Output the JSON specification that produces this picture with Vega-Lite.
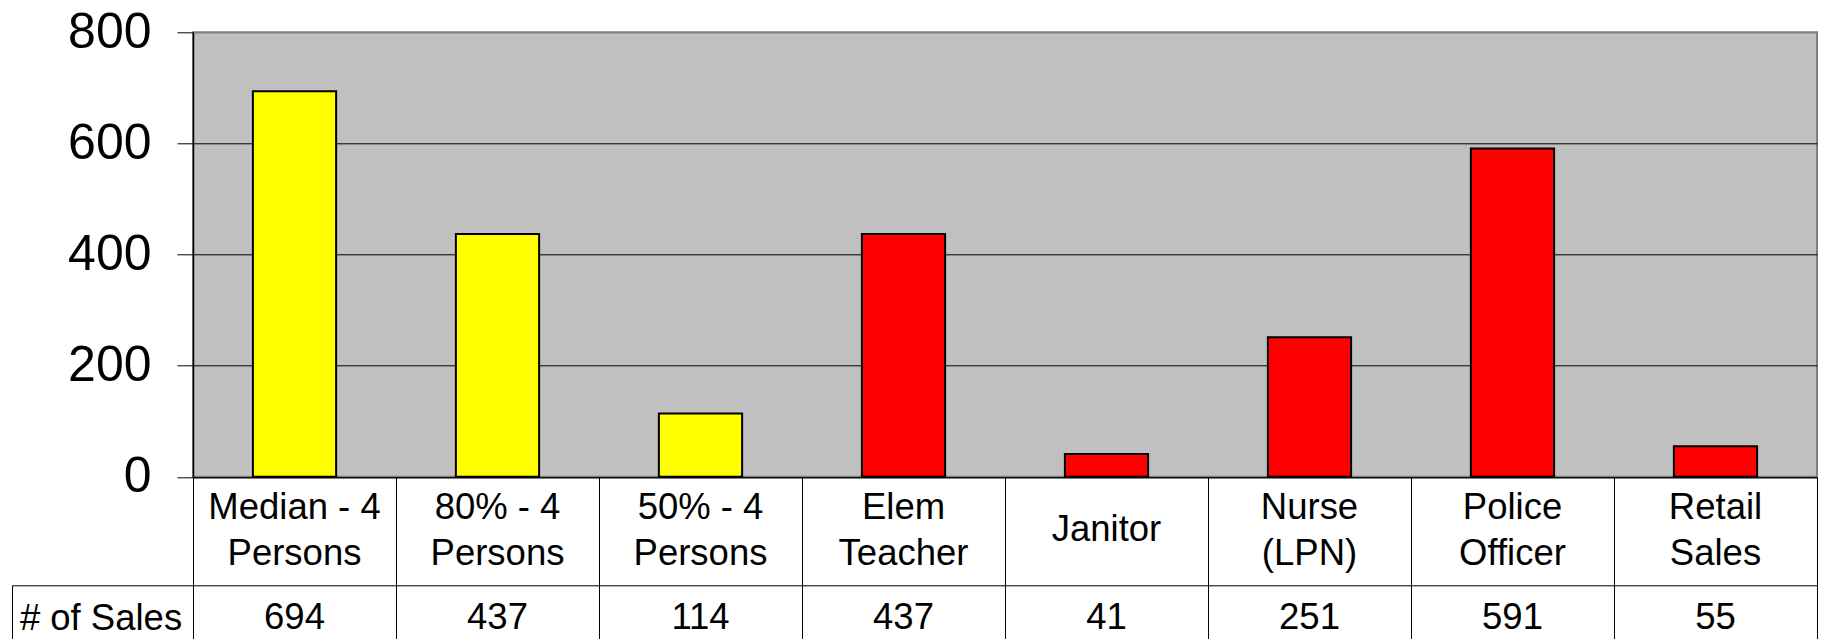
{
  "$schema": "https://vega.github.io/schema/vega-lite/v6.json",
  "padding": {"left": 11, "top": 6.3, "right": 3, "bottom": 0},
  "autosize": {"type": "pad"},
  "bounds": "flush",
  "spacing": 0,
  "background": "white",
  "config": {"font": "Liberation Sans"},
  "data": {
    "values": [
      {"label": "Median - 4\nPersons", "value": 694, "kind": "Income", "measure": "# of Sales"},
      {"label": "80% - 4\nPersons", "value": 437, "kind": "Income", "measure": "# of Sales"},
      {"label": "50% - 4\nPersons", "value": 114, "kind": "Income", "measure": "# of Sales"},
      {"label": "Elem\nTeacher", "value": 437, "kind": "Occupation", "measure": "# of Sales"},
      {"label": "Janitor", "value": 41, "kind": "Occupation", "measure": "# of Sales"},
      {"label": "Nurse\n(LPN)", "value": 251, "kind": "Occupation", "measure": "# of Sales"},
      {"label": "Police\nOfficer", "value": 591, "kind": "Occupation", "measure": "# of Sales"},
      {"label": "Retail\nSales", "value": 55, "kind": "Occupation", "measure": "# of Sales"}
    ]
  },
  "vconcat": [
    {
      "width": 1624,
      "height": 444.5,
      "view": {"fill": "#C0C0C0", "stroke": "#808080", "strokeWidth": 2},
      "mark": {"type": "bar", "stroke": "black", "strokeWidth": 2},
      "encoding": {
        "x": {"field": "label", "type": "nominal", "sort": null, "scale": {"paddingInner": 0.59, "paddingOuter": 0.295}, "axis": null},
        "y": {
          "field": "value", "type": "quantitative",
          "scale": {"domain": [0, 800], "nice": false},
          "axis": {
            "title": null, "values": [0, 200, 400, 600, 800],
            "domain": true, "domainColor": "black", "domainWidth": 1.5,
            "ticks": true, "tickSize": 16, "tickColor": "black", "tickWidth": 1,
            "labelFontSize": 50, "labelColor": "black", "labelFont": "Liberation Sans", "labelPadding": 26,
            "grid": true, "gridColor": {"condition": {"test": "datum.value == 800", "value": "#808080"}, "value": "black"}, "gridWidth": 1, "gridOpacity": 1
          }
        },
        "color": {"field": "kind", "type": "nominal", "scale": {"domain": ["Income", "Occupation"], "range": ["#FFFF00", "#FF0000"]}, "legend": null}
      }
    },
    {
      "width": 1624,
      "height": 108,
      "view": {"stroke": "black", "strokeWidth": 1},
      "encoding": {
        "x": {"field": "label", "type": "nominal",
          "sort": ["Median - 4\nPersons", "80% - 4\nPersons", "50% - 4\nPersons", "Elem\nTeacher", "Janitor", "Nurse\n(LPN)", "Police\nOfficer", "Retail\nSales"],
          "scale": {"type": "band", "paddingInner": 0, "paddingOuter": 0},
          "axis": {"title": null, "labels": false, "ticks": false, "domain": false, "grid": true, "tickBand": "extent", "gridColor": "black", "gridWidth": 1, "gridOpacity": 1}},
        "text": {"field": "label", "type": "nominal"}
      },
      "layer": [
        {
          "transform": [{"filter": "indexof(datum.label, '\\n') >= 0"}],
          "mark": {"type": "text", "fontSize": 36.5, "lineBreak": "\n", "lineHeight": 46, "font": "Liberation Sans", "fill": "black", "baseline": "middle", "align": "center", "dy": -23}
        },
        {
          "transform": [{"filter": "indexof(datum.label, '\\n') < 0"}],
          "mark": {"type": "text", "fontSize": 36.5, "font": "Liberation Sans", "fill": "black", "baseline": "middle", "align": "center", "dy": -1}
        }
      ]
    },
    {
      "width": 1624,
      "height": 56.2,
      "view": {"stroke": null},
      "mark": {"type": "text", "fontSize": 36.5, "font": "Liberation Sans", "fill": "black", "baseline": "middle", "align": "center", "dy": 5},
      "encoding": {
        "x": {"field": "label", "type": "nominal", "sort": null, "scale": {"type": "band", "paddingInner": 0, "paddingOuter": 0},
          "axis": {"title": null, "labels": false, "ticks": false, "domain": false, "grid": true, "tickBand": "extent", "gridColor": "black", "gridWidth": 1, "gridOpacity": 1}},
        "y": {"field": "measure", "type": "nominal", "scale": {"type": "band", "paddingInner": 0, "paddingOuter": 0},
          "axis": {"title": null, "orient": "left", "offset": 181, "domain": true, "domainColor": "black", "domainWidth": 1,
            "ticks": true, "tickBand": "extent", "tickSize": -181, "tickColor": "black", "tickWidth": 1,
            "labelFontSize": 36.5, "labelFont": "Liberation Sans", "labelColor": "black", "labelAlign": "center", "labelBaseline": "middle",
            "labelPadding": 92.5, "labelOffset": 5, "grid": false}},
        "text": {"field": "value", "type": "quantitative"}
      }
    }
  ]
}
